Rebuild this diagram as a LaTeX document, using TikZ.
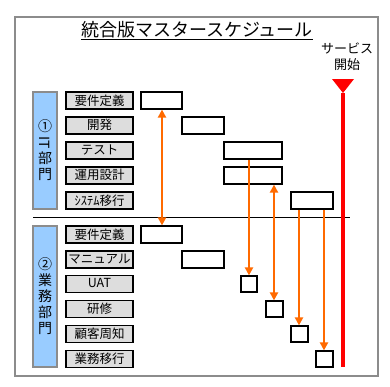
\documentclass[tikz,border=0pt]{standalone}
\usepackage{fontspec}
\setmainfont{Noto Sans CJK JP}
\usepackage{graphicx}
\usetikzlibrary{arrows.meta}
\definecolor{orng}{HTML}{FF6A00}
\definecolor{bluefill}{HTML}{99CCFF}
\definecolor{lblfill}{HTML}{DDDDDD}
\definecolor{framegray}{HTML}{8C8C8C}
\begin{document}
\begin{tikzpicture}[x=1pt,y=-1pt,
  frame/.style={draw=framegray,line width=1.4pt},
  dept/.style={draw=framegray,fill=bluefill,line width=1.2pt,minimum width=24pt,inner sep=0pt,align=center,font=\fontsize{14}{16}\selectfont},
  lbl/.style={draw=black,fill=lblfill,line width=1.2pt,minimum width=67pt,minimum height=17pt,inner sep=0pt,font=\fontsize{12.5}{13}\selectfont},
  sched/.style={draw=black,fill=white,line width=1.2pt,minimum height=17pt,inner sep=0pt},
  oarrow/.style={draw=orng,line width=2pt,-{Triangle[width=8pt,length=8pt]}},
  odarrow/.style={draw=orng,line width=2pt,{Triangle[width=8pt,length=8pt]}-{Triangle[width=8pt,length=8pt]}},
]
\useasboundingbox (0,0) rectangle (390,386);
\fill[white] (0,0) rectangle (390,386);
\draw[frame] (15,17) rectangle (378,376);
% title
\node[anchor=base,inner sep=0pt,font=\fontsize{18}{20}\selectfont] (title) at (197,36) {統合版マスタースケジュール};
\draw[line width=1pt] ([yshift=-3pt]title.base west) -- ([yshift=-3pt]title.base east);
% service start
\node[inner sep=0pt,align=center,font=\fontsize{13}{16}\selectfont] (svc) at (347,57) {サービス\\開始};
% department boxes
\node[dept,minimum height=117pt] (d1) at (45,150.5) {①\\\raisebox{0pt}[11pt][2pt]{\rotatebox[origin=c]{-90}{IT}}\\部\\門};
\node[dept,minimum height=141pt] (d2) at (45,296.5) {②\\業\\務\\部\\門};
% labels group 1
\node[lbl] (l1) at (99.5,100.5) {\raisebox{1.5pt}{要件定義}};
\node[lbl] (l2) at (99.5,125.5) {\raisebox{1.5pt}{開発}};
\node[lbl] (l3) at (99.5,150.5) {\raisebox{1.5pt}{テスト}};
\node[lbl] (l4) at (99.5,175.5) {\raisebox{1.5pt}{運用設計}};
\node[lbl] (l5) at (99.5,200.5) {\raisebox{1.5pt}{ｼｽﾃﾑ移行}};
% labels group 2
\node[lbl] (m1) at (99.5,234.5) {\raisebox{1.5pt}{要件定義}};
\node[lbl] (m2) at (99.5,259.5) {\raisebox{1.5pt}{マニュアル}};
\node[lbl] (m3) at (99.5,284) {\raisebox{1.5pt}{UAT}};
\node[lbl] (m4) at (99.5,309) {\raisebox{1.5pt}{研修}};
\node[lbl] (m5) at (99.5,334) {\raisebox{1.5pt}{顧客周知}};
\node[lbl] (m6) at (99.5,359) {\raisebox{1.5pt}{業務移行}};
% schedule boxes group 1
\node[sched,minimum width=41pt] (a1) at (161.5,100.5) {};
\node[sched,minimum width=42pt] (a2) at (203,125.5) {};
\node[sched,minimum width=58pt] (a3) at (253,150.5) {};
\node[sched,minimum width=58pt] (a4) at (253,175.5) {};
\node[sched,minimum width=42pt] (a5) at (312,200.5) {};
% schedule boxes group 2
\node[sched,minimum width=41pt] (b1) at (161.5,234.5) {};
\node[sched,minimum width=42pt] (b2) at (203,259.5) {};
\node[sched,minimum width=16pt,minimum height=16pt] (b3) at (249,284) {};
\node[sched,minimum width=17pt,minimum height=16pt] (b4) at (274.5,309) {};
\node[sched,minimum width=17pt,minimum height=16pt] (b5) at (299.5,334) {};
\node[sched,minimum width=17pt,minimum height=16pt] (b6) at (324.5,359) {};
% divider
\coordinate (divL) at (33,217);
\coordinate (divR) at (350,217);
\draw[line width=1pt] (divL) -- (divR);
% orange arrows
\draw[odarrow] ([xshift=0.5pt]a1.south) -- ([xshift=0.5pt]b1.north);
\draw[oarrow] (b3.north |- a3.south) -- (b3.north);
\draw[odarrow] ([xshift=-0.5pt]b4.north |- a4.south) -- ([xshift=-0.5pt]b4.north);
\draw[oarrow] ([xshift=-0.5pt]b5.north |- a5.south) -- ([xshift=-0.5pt]b5.north);
\draw[oarrow] ([xshift=-0.5pt]b6.north |- a5.south) -- ([xshift=-0.5pt]b6.north);
% red service start line
\coordinate (triL) at (332,79);
\coordinate (triR) at (354,79);
\coordinate (triT) at (343,93);
\coordinate (redEnd) at (343,367);
\fill[red] (triL) -- (triR) -- (triT) -- cycle;
\draw[red,line width=4pt] (triT) -- (redEnd);
\end{tikzpicture}
\end{document}
